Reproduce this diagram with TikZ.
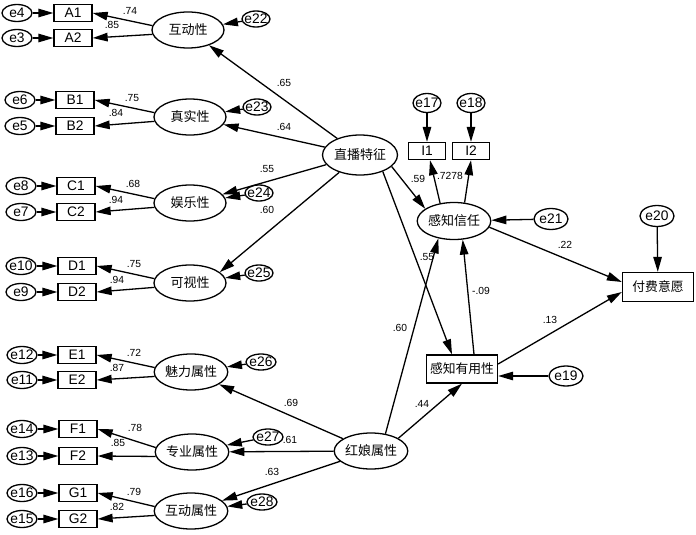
\documentclass[tikz,border=0pt]{standalone}
\usepackage{fontspec}
\setmainfont{Liberation Sans}
\newfontfamily\cjk{Noto Sans CJK SC}
\usetikzlibrary{arrows.meta,calc,shapes.geometric}
\begin{document}
\begin{tikzpicture}[x=1pt,y=-1pt,
  every path/.style={line width=1.3pt},
  arr/.style={-{Triangle[length=15pt,width=8.5pt]}},
  lat/.style={ellipse,draw,minimum width=72pt,minimum height=36pt,inner sep=0pt,font=\cjk\fontsize{13}{14}\selectfont},
  obs/.style={rectangle,draw,minimum width=38pt,minimum height=17pt,inner sep=0pt,font=\fontsize{13.8}{14}\selectfont},
  cobs/.style={rectangle,draw,minimum width=71pt,minimum height=28pt,inner sep=0pt,font=\cjk\fontsize{12.8}{14}\selectfont},
  err/.style={ellipse,draw,minimum width=30pt,minimum height=17pt,inner sep=0pt,inner xsep=-3pt,font=\fontsize{13.8}{14}\selectfont},
  errb/.style={err,minimum width=34pt,minimum height=21pt},
  lbl/.style={inner sep=0pt,font=\fontsize{10.3}{10}\selectfont},
]
\fill[white] (0,0) rectangle (696,535);
\useasboundingbox (0,0) rectangle (696,535);

% ---- left indicator blocks ----
\node[err] (e4) at (17,13) {e4};
\node[err] (e3) at (17,38) {e3};
\node[obs] (A1) at (73,13) {A1};
\node[obs] (A2) at (73,38) {A2};
\node[lat] (hu) at (188,30) {互动性};
\node[err,minimum width=28pt,minimum height=16pt] (e22) at (256,19) {e22};

\node[err] (e6) at (20,100) {e6};
\node[err] (e5) at (20,126) {e5};
\node[obs] (B1) at (75,100) {B1};
\node[obs] (B2) at (75,126) {B2};
\node[lat] (zs) at (190,117) {真实性};
\node[err,minimum width=28pt,minimum height=16pt] (e23) at (257,107) {e23};

\node[err] (e8) at (21,186) {e8};
\node[err] (e7) at (21,212) {e7};
\node[obs] (C1) at (76,186) {C1};
\node[obs] (C2) at (76,212) {C2};
\node[lat] (yl) at (190,203) {娱乐性};
\node[err,minimum width=28pt,minimum height=16pt] (e24) at (259,193) {e24};

\node[err] (e10) at (21,266) {e10};
\node[err] (e9) at (21,292) {e9};
\node[obs] (D1) at (77,266) {D1};
\node[obs] (D2) at (77,292) {D2};
\node[lat] (ks) at (190,283) {可视性};
\node[err,minimum width=28pt,minimum height=16pt] (e25) at (259,273) {e25};

\node[err] (e12) at (22,355) {e12};
\node[err] (e11) at (22,380) {e11};
\node[obs] (E1) at (77,355) {E1};
\node[obs] (E2) at (77,380) {E2};
\node[lat] (ml) at (191,372) {魅力属性};
\node[err,minimum width=30pt,minimum height=16pt] (e26) at (261,362) {e26};

\node[err] (e14) at (22,429) {e14};
\node[err] (e13) at (22,456) {e13};
\node[obs] (F1) at (78,429) {F1};
\node[obs] (F2) at (78,456) {F2};
\node[lat] (zy) at (192,452) {专业属性};
\node[err,minimum width=30pt,minimum height=16pt] (e27) at (268,437) {e27};

\node[err] (e16) at (22,493) {e16};
\node[err] (e15) at (22,519) {e15};
\node[obs] (G1) at (78,493) {G1};
\node[obs] (G2) at (78,519) {G2};
\node[lat] (hd) at (191,511) {互动属性};
\node[err,minimum width=30pt,minimum height=16pt] (e28) at (262,502) {e28};

% ---- central / right ----
\node[lat,minimum width=75pt,minimum height=40pt] (zb) at (360,155) {直播特征};
\node[lat] (hn) at (371,451) {红娘属性};
\node[lat,minimum height=37pt] (xr) at (454,221) {感知信任};
\node[obs,minimum width=37pt] (I1) at (427,151) {I1};
\node[obs,minimum width=37pt] (I2) at (471,151) {I2};
\node[err,minimum width=28pt,minimum height=19pt] (e17) at (427,103) {e17};
\node[err,minimum width=28pt,minimum height=19pt] (e18) at (471,103) {e18};
\node[errb] (e21) at (551,219) {e21};
\node[errb] (e20) at (657,216) {e20};
\node[cobs,minimum height=29pt] (ff) at (658,287) {付费意愿};
\node[cobs] (yy) at (462,369) {感知有用性};
\node[errb,minimum height=20pt] (e19) at (566,376) {e19};

% ---- measurement arrows ----
\foreach \e/\o in {e4/A1,e3/A2,e6/B1,e5/B2,e8/C1,e7/C2,e10/D1,e9/D2,e12/E1,e11/E2,e14/F1,e13/F2,e16/G1,e15/G2}
  \draw[arr] (\e) -- (\o);
\foreach \l/\a/\b in {hu/A1/A2,zs/B1/B2,yl/C1/C2,ks/D1/D2,ml/E1/E2,zy/F1/F2,hd/G1/G2}{
  \draw[arr] (\l.173) -- (\a.east);
  \draw[arr] (\l.187) -- (\b.east);
}
\foreach \e/\l in {e22/hu,e23/zs,e24/yl,e25/ks,e26/ml,e27/zy,e28/hd}
  \draw[arr] (\e) -- (\l);

% ---- structural arrows ----
\draw[arr] (zb) -- (hu);
\draw[arr] (zb) -- (zs);
\draw[arr] (zb) -- (yl.15);
\draw[arr] (zb) -- (ks.20);
\draw[arr] (zb.-20) -- (xr.157);
\draw[arr] (zb.-36) -- ([xshift=-10pt]yy.north);
\draw[arr] (hn.50) -- (xr.228);
\draw[arr] (hn.25) -- (yy.south);
\draw[arr] ([xshift=12pt]yy.north) -- (xr.295);
\draw[arr] (hn) -- (ml);
\draw[arr] (hn) -- (zy);
\draw[arr] (hn) -- (hd);
\draw[arr] (xr.-10) -- ([yshift=5pt]ff.west);
\draw[arr] ([yshift=5pt]yy.east) -- ([yshift=-5pt]ff.west);
\draw[arr] (e20) -- (ff);
\draw[arr] (e21) -- (xr);
\draw[arr] (e19) -- (e19 -| yy.east);
\draw[arr] (e17) -- (I1);
\draw[arr] (e18) -- (I2);
\draw[arr] (xr.128) -- ([xshift=3pt]I1.south);
\draw[arr] (xr.60) -- (I2.south);

% ---- labels ----
\node[lbl] (l1) at (130,11) {.74};
\node[lbl] (l2) at (112,25) {.85};
\node[lbl] (l3) at (132,98) {.75};
\node[lbl] (l4) at (116,113) {.84};
\node[lbl] (l5) at (133,184) {.68};
\node[lbl] (l6) at (116,200) {.94};
\node[lbl] (l7) at (134,264) {.75};
\node[lbl] (l8) at (117,280) {.94};
\node[lbl] (l9) at (134,353) {.72};
\node[lbl] (l10) at (117,368) {.87};
\node[lbl] (l11) at (135,428) {.78};
\node[lbl] (l12) at (118,443) {.85};
\node[lbl] (l13) at (134,492) {.79};
\node[lbl] (l14) at (117,507) {.82};
\node[lbl] (s1) at (284,83) {.65};
\node[lbl] (s2) at (284,127) {.64};
\node[lbl] (s3) at (267,169) {.55};
\node[lbl] (s4) at (267,210) {.60};
\node[lbl] (s5) at (418,179) {.59};
\node[lbl] (s6) at (450,176) {.7278};
\node[lbl] (s7) at (427,257) {.55};
\node[lbl] (s8) at (400,328) {.60};
\node[lbl] (s9) at (565,245) {.22};
\node[lbl] (s10) at (550,320) {.13};
\node[lbl] (s11) at (481,291) {-.09};
\node[lbl] (s12) at (422,404) {.44};
\node[lbl] (s13) at (291,403) {.69};
\node[lbl] (s14) at (290,440) {.61};
\node[lbl] (s15) at (272,472) {.63};
\end{tikzpicture}
\end{document}
